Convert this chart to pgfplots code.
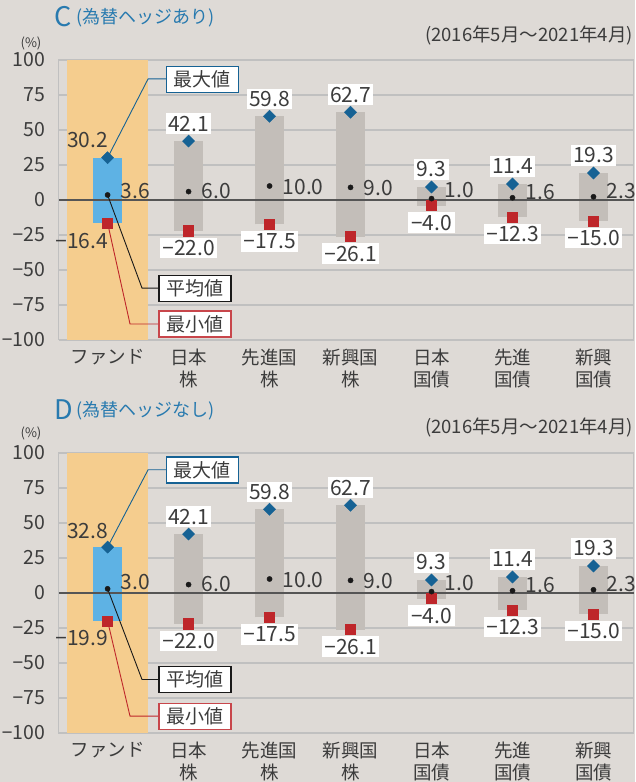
\documentclass[border=0pt]{standalone}
\usepackage{pgfplots}
\pgfplotsset{compat=1.18}
\usepackage{pgfplotstable}
\usepackage{fontspec}
\setmainfont{Noto Sans CJK JP}
\newfontfamily\dashfont{Noto Sans}
\newcommand{\mns}{{\dashfont −}}

\definecolor{bg}{RGB}{222,218,214}
\definecolor{band}{RGB}{245,205,142}
\definecolor{fundbar}{RGB}{94,178,228}
\definecolor{graybar}{RGB}{195,190,185}
\definecolor{maxc}{RGB}{22,98,148}
\definecolor{minc}{RGB}{190,38,42}
\definecolor{minbox}{RGB}{200,70,75}
\definecolor{meanc}{RGB}{25,25,25}
\definecolor{gridc}{RGB}{192,192,192}
\definecolor{zeroc}{RGB}{85,85,85}
\definecolor{txt}{RGB}{60,60,60}
\definecolor{titlec}{RGB}{40,122,175}

% x: category, max / mean / min values, mly: vertical place of the mean label
\pgfplotstableread{
x  max   mean  min    mly
1  42.1   6.0  -22.0  6.1
2  59.8  10.0  -17.5  9.0
3  62.7   9.0  -26.1  8.4
4   9.3   1.0   -4.0  7.0
5  11.4   1.6  -12.3  6.0
6  19.3   2.3  -15.0  6.2
}\assets
\pgfplotstableread{
x  max   mean  min    mly
0  30.2   3.6  -16.4  6.4
}\fundC
\pgfplotstableread{
x  max   mean  min    mly
0  32.8   3.0  -19.9  7.5
}\fundD

\pgfplotsset{
  panel/.style={
    scale only axis, width=575pt, height=280pt,
    xmin=-0.6, xmax=6.5, ymin=-100, ymax=100,
    axis line style={draw=gridc, line width=1pt},
    ytick={-100,-75,...,100},
    yticklabels={{\mns100},{\mns75},{\mns50},{\mns25},0,25,50,75,100},
    ymajorgrids, grid style={gridc, line width=1.5pt},
    major tick length=0pt,
    yticklabel style={font=\fontsize{19.5}{24}\selectfont, text=txt, inner sep=0pt, xshift=-13.5pt},
    xtick={0,...,6},
    xticklabels={ファンド,{日本\\株},{先進国\\株},{新興国\\株},{日本\\国債},{先進\\国債},{新興\\国債}},
    xticklabel style={font=\fontsize{18.5}{22}\selectfont, text=txt, align=center, inner sep=0pt, yshift=-9pt, anchor=north},
    clip=false,
  },
  % positive value labels
  vlab/.style={
    point meta=y,
    nodes near coords={\pgfmathprintnumber[fixed,fixed zerofill,precision=1,assume math mode=true]{\pgfplotspointmeta}},
    every node near coord/.append style={font=\fontsize{21}{24}\selectfont, text=txt, anchor=center, inner sep=2.5pt, #1},
  },
  % negative value labels: sign set with a true minus glyph
  nlab/.style={
    point meta={-\thisrow{min}},
    nodes near coords={\mns\pgfmathprintnumber[fixed,fixed zerofill,precision=1,assume math mode=true]{\pgfplotspointmeta}},
    every node near coord/.append style={font=\fontsize{21}{24}\selectfont, text=txt, anchor=center, inner sep=2.5pt, #1},
  },
  maxmk/.style={only marks, mark=square*, mark size=4.3pt, mark options={rotate=45, draw=maxc, fill=maxc}},
  minmk/.style={only marks, mark=square*, mark size=5.1pt, mark options={draw=minc, fill=minc}},
  meanmk/.style={only marks, mark=*, mark size=2.6pt, mark options={draw=meanc, fill=meanc}},
  nomk/.style={only marks, mark=*, mark size=0pt, mark options={draw=none, fill=none}},
}
\tikzset{
  cbox/.style={fill=white, line width=1.2pt, minimum width=72pt, minimum height=26pt, inner sep=0pt, font=\fontsize{19}{19}\selectfont, text=txt},
}

\newcommand{\panelbody}{%
  \addplot[fill=band, draw=none] coordinates {(-0.5,-100) (0.5,-100) (0.5,100) (-0.5,100)} -- cycle;
  \addplot[draw=graybar, line width=28.5pt, unbounded coords=jump] coordinates {
    (1,-22.0) (1,42.1) (1,nan)
    (2,-17.5) (2,59.8) (2,nan)
    (3,-26.1) (3,62.7) (3,nan)
    (4,-4.0) (4,9.3) (4,nan)
    (5,-12.3) (5,11.4) (5,nan)
    (6,-15.0) (6,19.3)};
}

\begin{document}
\begin{tikzpicture}[x=1pt,y=1pt]
\path[use as bounding box, fill=bg] (0,0) rectangle (635,782);

% ---------------- C ----------------
\begin{axis}[panel, at={(59pt,442pt)}, anchor=south west]
  \panelbody
  \addplot[draw=fundbar, line width=28.5pt] coordinates {(0,-16.4) (0,30.2)};
  \addplot[draw=zeroc, line width=1.5pt] coordinates {(-0.6,0) (6.5,0)};
  \draw[maxc, line width=0.9pt] (axis cs:0,30.2) -- (axis cs:0.5,86.5) -- (axis cs:0.72,86.5);
  \draw[meanc, line width=0.9pt] (axis cs:0,3.6) -- (axis cs:0.425,-62.9) -- (axis cs:0.635,-62.9);
  \draw[minc, line width=0.9pt] (axis cs:0,-16.4) -- (axis cs:0.277,-88.6) -- (axis cs:0.635,-88.6);
  \addplot[maxmk, vlab={yshift=17.5pt, fill=white}] table[x=x, y=max] {\assets};
  \addplot[minmk, nlab={yshift=-17pt, fill=white}] table[x=x, y=min] {\assets};
  \addplot[meanmk] table[x=x, y=mean] {\assets};
  \addplot[nomk, vlab={anchor=west, xshift=10.5pt}, point meta=\thisrow{mean}] table[x=x, y=mly] {\assets};
  \addplot[maxmk, vlab={anchor=east, xshift=3pt, yshift=17.5pt}] table[x=x, y=max] {\fundC};
  \addplot[minmk, nlab={anchor=east, xshift=3pt, yshift=-18.5pt}] table[x=x, y=min] {\fundC};
  \addplot[meanmk] table[x=x, y=mean] {\fundC};
  \addplot[nomk, vlab={anchor=west, xshift=10.5pt}, point meta=\thisrow{mean}] table[x=x, y=mly] {\fundC};
  \node[cbox, draw=maxc] at (axis cs:1.17,86.2) {最大値};
  \node[cbox, draw=meanc] at (axis cs:1.08,-63.0) {平均値};
  \node[cbox, draw=minbox] at (axis cs:1.08,-88.6) {最小値};
\end{axis}

% ---------------- D ----------------
\begin{axis}[panel, at={(59pt,49pt)}, anchor=south west]
  \panelbody
  \addplot[draw=fundbar, line width=28.5pt] coordinates {(0,-19.9) (0,32.8)};
  \addplot[draw=zeroc, line width=1.5pt] coordinates {(-0.6,0) (6.5,0)};
  \draw[maxc, line width=0.9pt] (axis cs:0,32.8) -- (axis cs:0.5,88) -- (axis cs:0.72,88);
  \draw[meanc, line width=0.9pt] (axis cs:0,3.0) -- (axis cs:0.425,-61.8) -- (axis cs:0.635,-61.8);
  \draw[minc, line width=0.9pt] (axis cs:0,-19.9) -- (axis cs:0.277,-88.0) -- (axis cs:0.635,-88.0);
  \addplot[maxmk, vlab={yshift=17.5pt, fill=white}] table[x=x, y=max] {\assets};
  \addplot[minmk, nlab={yshift=-17pt, fill=white}] table[x=x, y=min] {\assets};
  \addplot[meanmk] table[x=x, y=mean] {\assets};
  \addplot[nomk, vlab={anchor=west, xshift=10.5pt}, point meta=\thisrow{mean}] table[x=x, y=mly] {\assets};
  \addplot[maxmk, vlab={anchor=east, xshift=3pt, yshift=16.5pt}] table[x=x, y=max] {\fundD};
  \addplot[minmk, nlab={anchor=east, xshift=3pt, yshift=-17.5pt}] table[x=x, y=min] {\fundD};
  \addplot[meanmk] table[x=x, y=mean] {\fundD};
  \addplot[nomk, vlab={anchor=west, xshift=10.5pt}, point meta=\thisrow{mean}] table[x=x, y=mly] {\fundD};
  \node[cbox, draw=maxc] at (axis cs:1.17,87.9) {最大値};
  \node[cbox, draw=meanc] at (axis cs:1.08,-62.0) {平均値};
  \node[cbox, draw=minbox] at (axis cs:1.08,-88.0) {最小値};
\end{axis}

% titles and notes
\node[anchor=west, inner sep=0pt, text=titlec, font=\fontsize{27}{27}\selectfont] at (54,765) {C};
\node[anchor=west, inner sep=0pt, text=titlec, font=\fontsize{18}{18}\selectfont] at (76,764) {(為替ヘッジあり)};
\node[anchor=east, inner sep=0pt, text=txt, font=\fontsize{18.5}{18.5}\selectfont] at (633,746) {(2016年5月～2021年4月)};
\node[inner sep=0pt, text=txt, font=\fontsize{13}{13}\selectfont] at (31,739) {(\%)};

\node[anchor=west, inner sep=0pt, text=titlec, font=\fontsize{27}{27}\selectfont] at (54,372) {D};
\node[anchor=west, inner sep=0pt, text=titlec, font=\fontsize{18}{18}\selectfont] at (76,371) {(為替ヘッジなし)};
\node[anchor=east, inner sep=0pt, text=txt, font=\fontsize{18.5}{18.5}\selectfont] at (633,354) {(2016年5月～2021年4月)};
\node[inner sep=0pt, text=txt, font=\fontsize{13}{13}\selectfont] at (31,349) {(\%)};
\end{tikzpicture}
\end{document}
